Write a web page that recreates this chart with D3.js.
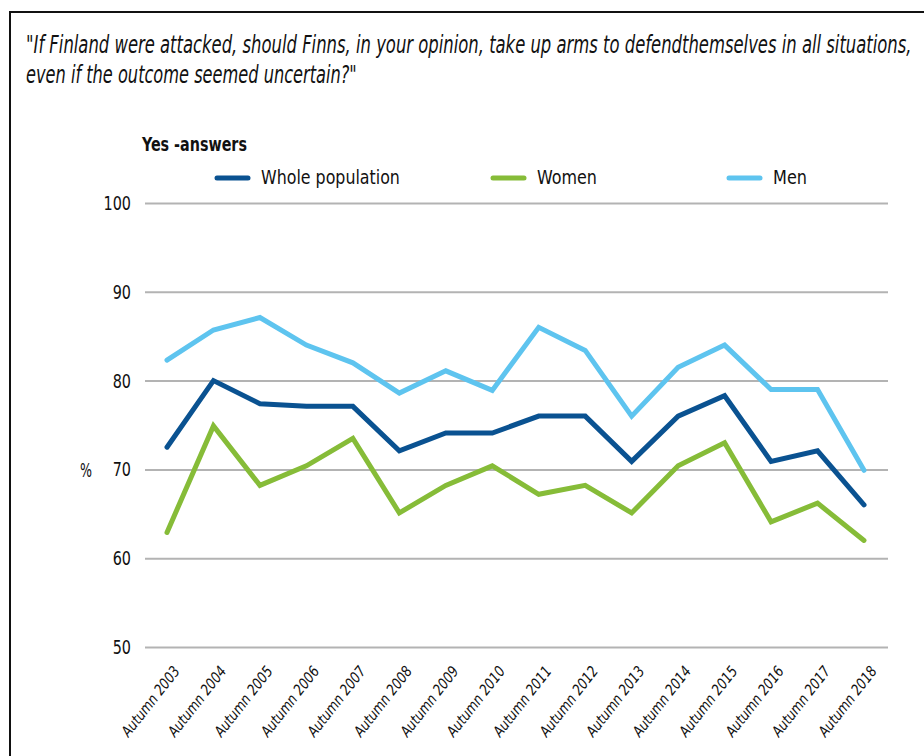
<!DOCTYPE html>
<html>
<head>
<meta charset="utf-8">
<script src="https://cdn.jsdelivr.net/npm/d3@7"></script>
<style>
  body { margin: 0; background: #fff; }
  svg text { font-family: "DejaVu Sans Condensed", "DejaVu Sans", sans-serif; fill: #111; }
</style>
</head>
<body>
<svg id="chart"></svg>
<script>
// chart size
const width = 924;
const height = 756;

// DATA
const years = ["Autumn 2003", "Autumn 2004", "Autumn 2005", "Autumn 2006", "Autumn 2007", "Autumn 2008",
  "Autumn 2009", "Autumn 2010", "Autumn 2011", "Autumn 2012", "Autumn 2013", "Autumn 2014",
  "Autumn 2015", "Autumn 2016", "Autumn 2017", "Autumn 2018"];
const wholePopulation = [72.5, 80, 77.4, 77.1, 77.1, 72.1, 74.1, 74.1, 76, 76, 70.9, 76, 78.3, 70.9, 72.1, 66];
const women = [62.9, 74.9, 68.2, 70.4, 73.5, 65.1, 68.2, 70.4, 67.2, 68.2, 65.1, 70.4, 73, 64.1, 66.2, 62];
const men = [82.3, 85.7, 87.1, 84, 82, 78.6, 81.1, 78.9, 86, 83.4, 76, 81.5, 84, 79, 79, 69.9];
const yTicks = [50, 60, 70, 80, 90, 100];
const titleLines = [
  "\"If Finland were attacked, should Finns, in your opinion, take up arms to defendthemselves in all situations,",
  "even if the outcome seemed uncertain?\""
];

const series = [
  { name: "Whole population", values: wholePopulation, color: "#0a5291" },
  { name: "Women", values: women, color: "#86bc38" },
  { name: "Men", values: men, color: "#5ec4ef" }
];

const svg = d3.select("#chart").attr("width", width).attr("height", height);

// squeeze a text horizontally to a given width (the original font is a condensed one)
function fit(sel, w) {
  sel.each(function () {
    const n = this.getComputedTextLength();
    const x = +this.getAttribute("x") || 0;
    const y = +this.getAttribute("y") || 0;
    d3.select(this).attr("x", 0).attr("y", 0)
      .attr("transform", `translate(${x},${y}) scale(${w / n},1)`);
  });
}

// frame
svg.append("rect")
  .attr("x", 10).attr("y", 12)
  .attr("width", width + 20).attr("height", height + 20)
  .attr("fill", "none").attr("stroke", "#111").attr("stroke-width", 2);

// title
const titleWidths = [886, 331];
svg.append("g").selectAll("text")
  .data(titleLines)
  .join("text")
  .attr("x", 26)
  .attr("y", (d, i) => 53 + i * 30)
  .attr("font-size", 24)
  .attr("font-style", "italic")
  .text(d => d)
  .each(function (d, i) { fit(d3.select(this), titleWidths[i]); });

// SCALES
const x = d3.scalePoint().domain(years).range([167, 864]);
const y = d3.scaleLinear().domain([50, 100]).range([647, 203]);

// grid + y labels
const yAxis = d3.axisLeft(y)
  .tickValues(yTicks)
  .tickSize(-(888 - 145))
  .tickPadding(14);

svg.append("g")
  .attr("transform", "translate(145,0)")
  .call(yAxis)
  .call(g => g.select(".domain").remove())
  .call(g => g.selectAll(".tick line").attr("stroke", "#b3b3b3").attr("stroke-width", 2))
  .call(g => g.selectAll(".tick text")
    .attr("font-size", 20).attr("fill", "#111")
    .attr("font-family", "\"DejaVu Sans Condensed\", sans-serif")
    .attr("x", -14 / 0.8)
    .attr("transform", "scale(0.8,1)"));

// x labels
const xAxis = d3.axisBottom(x).tickSize(0).tickPadding(0);
svg.append("g")
  .attr("transform", "translate(0,662)")
  .call(xAxis)
  .call(g => g.select(".domain").remove())
  .call(g => g.selectAll(".tick text")
    .attr("font-size", 15)
    .attr("font-style", "italic")
    .attr("fill", "#111")
    .attr("font-family", "\"DejaVu Sans Condensed\", sans-serif")
    .attr("text-anchor", "end")
    .attr("y", 0)
    .attr("dy", "0.35em")
    .attr("transform", "translate(9,6) rotate(-52) scale(0.92,1)"));

// % label
svg.append("text")
  .attr("x", 80).attr("y", y(70) + 8)
  .attr("font-size", 19)
  .text("%")
  .call(fit, 12);

// subtitle
svg.append("text")
  .attr("x", 142).attr("y", 151)
  .attr("font-size", 19)
  .attr("font-weight", "bold")
  .text("Yes -answers")
  .call(fit, 105);

// legend
const legendX = [217, 493, 729];
const legendW = [139, 60, 34];
const legend = svg.append("g").selectAll("g")
  .data(series)
  .join("g")
  .attr("transform", (d, i) => `translate(${legendX[i]},178)`);

legend.append("line")
  .attr("x1", 0).attr("x2", 31)
  .attr("stroke", d => d.color)
  .attr("stroke-width", 5)
  .attr("stroke-linecap", "round");

legend.append("text")
  .attr("x", 44).attr("y", 6)
  .attr("font-size", 19)
  .text(d => d.name)
  .each(function (d, i) { fit(d3.select(this), legendW[i]); });

// LINES
const line = d3.line()
  .x((d, i) => x(years[i]))
  .y(d => y(d));

svg.append("g").selectAll("path")
  .data([series[1], series[0], series[2]])
  .join("path")
  .attr("d", d => line(d.values))
  .attr("fill", "none")
  .attr("stroke", d => d.color)
  .attr("stroke-width", 5)
  .attr("stroke-linejoin", "miter")
  .attr("stroke-linecap", "round");
</script>
</body>
</html>
